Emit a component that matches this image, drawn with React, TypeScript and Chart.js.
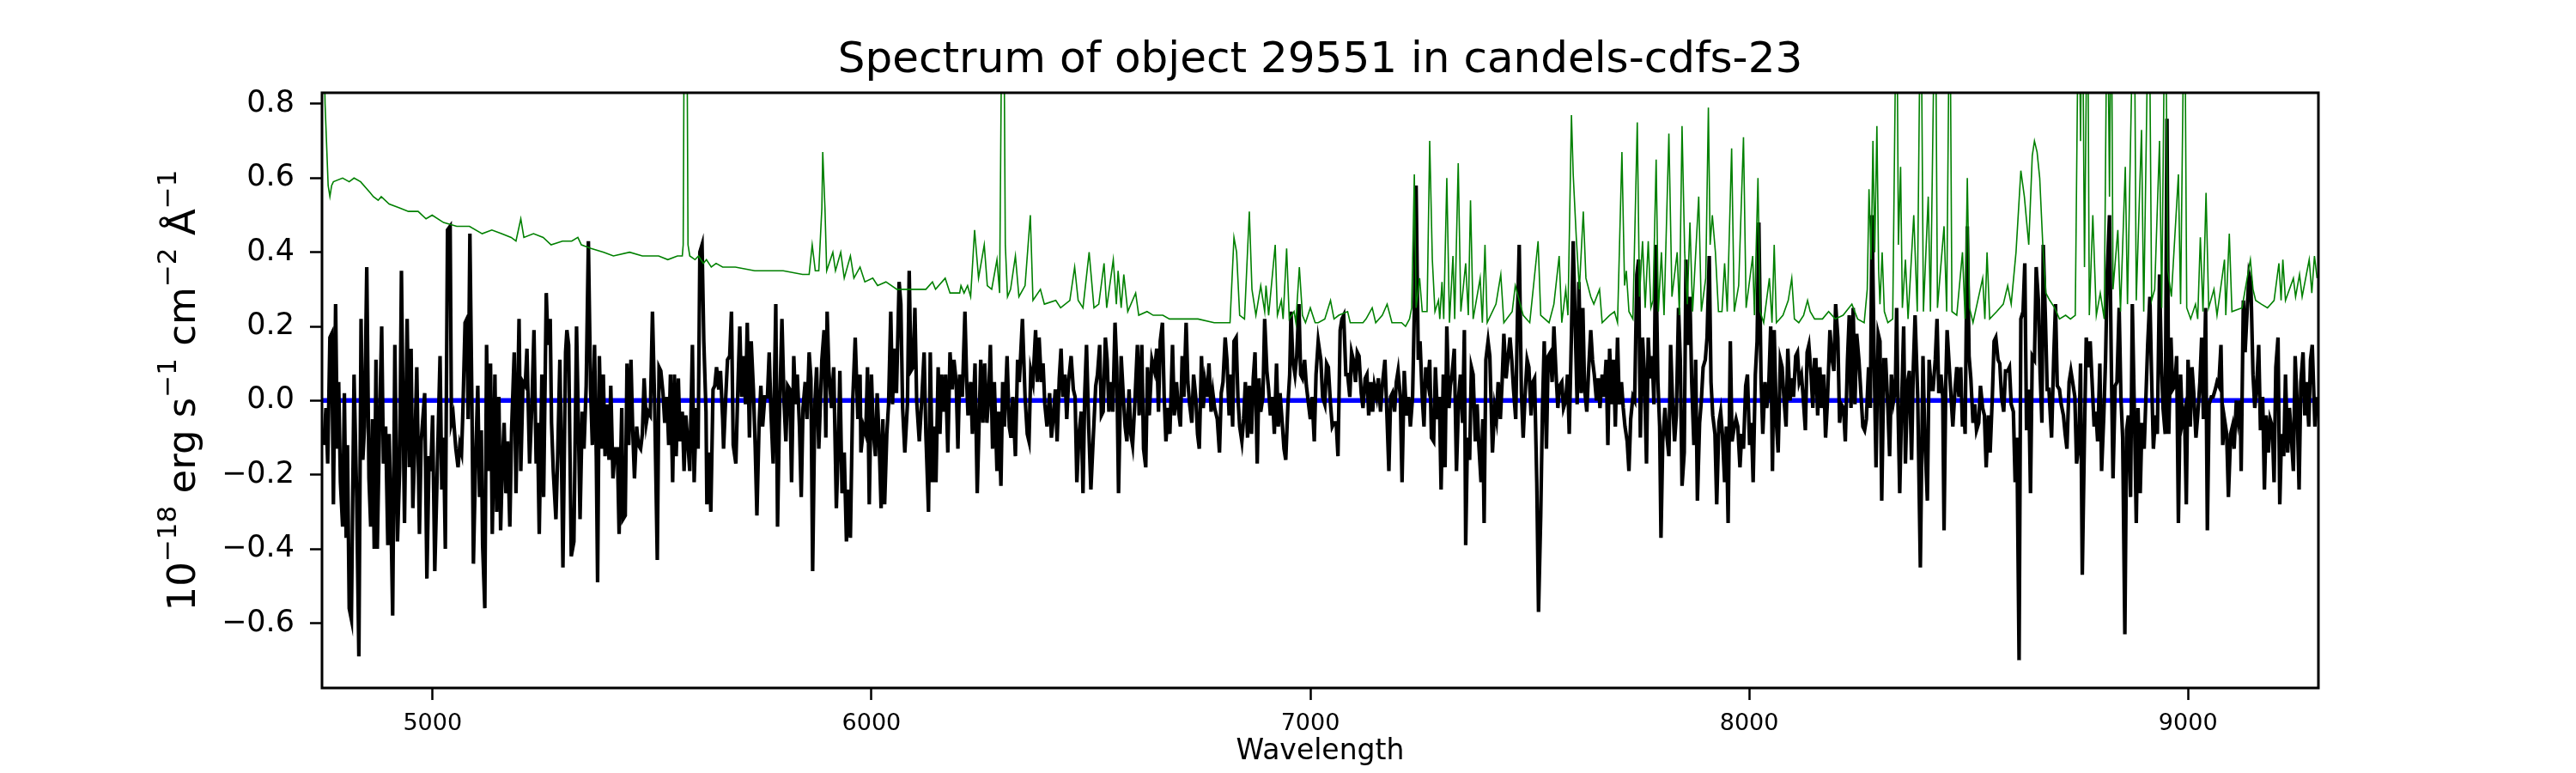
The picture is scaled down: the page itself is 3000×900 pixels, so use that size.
import { useEffect, useRef } from 'react';
import { Chart, registerables } from 'chart.js';

Chart.register(...registerables);

const TITLE = 'Spectrum of object 29551 in candels-cdfs-23';
const X_LABEL = 'Wavelength';
const Y_LABEL_PARTS = [
  { text: '10', sup: false },
  { text: '\u221218', sup: true },
  { text: ' erg s', sup: false },
  { text: '\u22121', sup: true },
  { text: ' cm', sup: false },
  { text: '\u22122', sup: true },
  { text: ' \u00c5', sup: false },
  { text: '\u22121', sup: true },
];
const X_MIN = 4748;
const X_MAX = 9297;
const Y_MIN = -0.775;
const Y_MAX = 0.83;
const X_TICKS = [5000, 6000, 7000, 8000, 9000];
const Y_TICKS = [-0.6, -0.4, -0.2, 0, 0.2, 0.4, 0.6, 0.8];
const ZERO_LEVEL = 0;

// flux (black), [wavelength, flux]
const FLUX_A: [number, number][] = [
  [4752,-0.12],[4757,-0.02],[4761,-0.17],[4766,0.17],[4770,0.18],[4774,-0.28],[4779,0.26],[4783,-0.13],[4786,0.05],[4790,-0.22],
  [4795,-0.34],[4799,0.02],[4803,-0.37],[4806,-0.12],[4810,-0.56],[4815,-0.59],[4821,0.07],[4827,-0.26],[4832,-0.69],[4837,0.22],
  [4841,-0.16],[4845,-0.07],[4850,0.36],[4855,-0.21],[4859,-0.34],[4863,-0.05],[4867,-0.40],[4871,0.11],[4874,-0.40],[4879,-0.07],
  [4884,0.20],[4888,-0.17],[4893,-0.07],[4898,-0.39],[4901,-0.09],[4905,-0.30],[4909,-0.58],[4914,0.15],[4920,-0.38],[4925,-0.18],
  [4929,0.35],[4933,-0.06],[4936,-0.33],[4942,0.22],[4947,-0.18],[4951,0.14],[4955,-0.29],[4960,-0.10],[4964,0.09],[4970,-0.36],
  [4974,-0.11],[4982,0.02],[4987,-0.48],[4992,-0.15],[4996,-0.19],[5000,-0.04],[5005,-0.46],[5011,-0.17],[5017,0.12],[5021,-0.24],
  [5025,-0.10],[5029,-0.40],[5034,0.46],[5040,0.47],[5043,-0.06],[5047,-0.04],[5053,-0.13],[5058,-0.18],[5062,-0.12],[5066,-0.14],
  [5069,-0.03],[5074,0.21],[5078,0.22],[5081,-0.05],[5085,0.45],[5090,-0.05],[5093,-0.44],[5098,-0.16],[5103,0.04],[5107,-0.26],
  [5111,-0.08],[5114,-0.39],[5119,-0.56],[5123,0.15],[5128,-0.19],[5132,0.10],[5136,-0.36],[5142,0.07],[5146,-0.30],[5151,0.01],
  [5155,-0.35],[5159,-0.17],[5163,-0.06],[5167,-0.25],[5171,-0.11],[5176,-0.34],[5180,-0.08],[5186,0.13],[5190,-0.25],[5197,0.22],
  [5201,-0.19],[5206,0.05],[5211,0.04],[5215,0.14],[5221,-0.17],[5226,-0.02],[5231,0.19],[5236,-0.17],[5239,-0.06],[5243,-0.36],
  [5249,0.07],[5253,-0.26],[5259,0.29],[5263,0.15],[5268,0.22],[5271,-0.06],[5275,-0.19],[5281,-0.32],[5285,-0.15],[5290,0.11],
  [5294,-0.19],[5297,-0.45],[5303,0.13],[5306,0.19],[5310,0.15],[5316,-0.42],[5322,-0.38],[5328,0.20],[5332,-0.05],[5336,-0.32],
  [5341,-0.03],[5345,-0.13],[5350,0.04],[5355,0.43],[5360,0.03],[5364,-0.12],[5369,0.15],[5373,-0.15],[5376,-0.49],[5380,0.12],
  [5385,-0.13],[5389,0.07],[5393,-0.15],[5398,-0.01],[5402,-0.16],[5406,0.04],[5411,-0.21],[5416,-0.13],[5421,-0.13],[5425,-0.36],
  [5431,-0.02],[5434,-0.32],[5439,-0.31],[5443,0.10],[5447,-0.12],[5452,0.11],[5456,-0.08],[5460,-0.21],[5465,-0.07],[5469,-0.12],
  [5474,-0.13],[5478,-0.09],[5482,0.06],[5487,-0.06],[5491,-0.03],[5496,-0.04],[5501,0.24],[5506,-0.01],[5512,-0.43],[5516,0.09],
  [5520,0.08],[5525,0.02],[5529,-0.06],[5534,0.01],[5538,-0.12],[5542,0.07],[5547,-0.22],[5551,0.07],[5555,-0.15],[5560,0.06],
  [5564,-0.11],[5569,-0.03],[5573,-0.19],[5577,-0.04],[5582,-0.12],[5586,-0.19],[5592,0.15],[5596,-0.22],[5601,-0.02],[5605,-0.13],
  [5609,0.40],[5614,0.42],[5618,0.16],[5623,-0.03],[5625,-0.28],[5630,-0.14],[5634,-0.30],[5639,0.03],[5643,0.04],[5647,0.09],
  [5652,0.03],[5656,0.08],[5661,-0.05],[5663,-0.13],[5668,0.01],[5672,0.11],[5677,0.12],[5681,0.24],[5685,-0.12],[5691,-0.17],
  [5696,0.05],[5700,0.20],[5704,0.01],[5709,0.12],[5713,-0.01],[5717,0.21],[5722,-0.10],[5726,0.16],[5731,0.03],[5735,-0.12],
  [5739,-0.31],[5744,-0.06],[5748,0.04],[5752,-0.07],[5757,0.01],[5763,0.01],[5767,0.13],[5771,-0.03],[5776,-0.17],[5782,0.26],
  [5786,-0.34],[5790,-0.06],[5796,0.22],[5801,-0.01],[5805,-0.11],[5809,0.04],[5814,0.03],[5818,-0.22],[5823,0.12],[5827,-0.01],
  [5831,0.07],[5836,-0.07],[5840,-0.26],[5844,-0.02],[5849,0.05],[5853,-0.05],[5858,0.13],[5862,0.06],[5866,-0.46],[5871,-0.01],
  [5875,0.09],[5880,-0.13],
];
const FLUX_B: [number, number][] = [
  [5887,0.11],[5892,0.19],[5896,-0.10],[5899,0.24],[5903,0.08],[5909,-0.02],[5914,0.09],[5920,-0.29],[5924,-0.14],[5928,0.08],
  [5933,-0.25],[5938,-0.14],[5943,-0.38],[5947,-0.24],[5952,-0.37],[5957,-0.01],[5963,0.17],[5969,-0.05],[5974,0.07],[5976,-0.14],
  [5982,-0.07],[5987,-0.09],[5991,0.09],[5995,-0.28],[6000,0.07],[6004,-0.08],[6009,-0.15],[6013,0.02],[6017,-0.09],[6022,-0.29],
  [6026,-0.05],[6030,-0.28],[6035,-0.09],[6039,-0.01],[6044,0.24],[6048,-0.01],[6052,0.14],[6057,0.02],[6063,0.32],[6067,0.26],
  [6071,-0.02],[6076,-0.14],[6082,-0.01],[6086,0.35],[6090,0.08],[6095,0.09],[6099,0.25],[6103,0.00],[6109,-0.11],[6114,-0.01],
  [6120,0.13],[6124,-0.09],[6130,-0.30],[6134,0.13],[6139,-0.22],[6143,-0.07],[6147,-0.22],[6152,0.09],[6156,-0.09],[6160,0.07],
  [6165,-0.03],[6169,0.07],[6174,-0.14],[6179,0.13],[6184,0.03],[6188,0.11],[6193,0.05],[6197,-0.13],[6201,0.07],[6207,0.01],
  [6213,0.24],[6217,0.05],[6220,-0.04],[6226,0.05],[6230,-0.09],[6236,0.10],[6241,-0.25],[6245,-0.07],[6249,0.11],[6254,-0.06],
  [6258,0.10],[6263,-0.06],[6267,0.01],[6271,0.15],[6276,-0.13],[6280,0.05],[6286,-0.19],[6290,-0.03],[6295,-0.23],[6299,0.05],
  [6303,-0.07],[6309,0.12],[6314,-0.07],[6318,-0.10],[6322,0.01],[6328,-0.15],[6333,0.11],[6337,0.05],[6344,0.22],[6350,0.01],
  [6355,-0.09],[6359,-0.11],[6363,0.08],[6368,0.05],[6374,0.19],[6378,0.05],[6382,0.17],[6387,0.05],[6391,0.10],[6395,-0.01],
  [6400,-0.07],[6406,0.02],[6410,-0.10],[6414,-0.05],[6419,0.03],[6423,-0.11],[6428,0.06],[6432,0.14],[6436,0.01],[6441,0.07],
  [6445,-0.05],[6449,0.05],[6455,0.12],[6460,0.03],[6464,0.01],[6468,-0.22],[6473,-0.09],[6478,-0.03],[6482,-0.25],[6486,0.02],
  [6490,0.15],[6495,-0.07],[6500,-0.24],[6505,-0.11],[6511,0.04],[6515,0.07],[6520,0.15],[6524,-0.04],[6528,-0.03],[6533,0.17],
  [6537,0.11],[6541,-0.03],[6546,0.05],[6550,-0.03],[6555,0.21],[6559,0.09],[6563,-0.25],[6569,0.12],[6574,0.01],[6578,-0.07],
  [6582,-0.11],[6587,0.03],[6591,-0.09],[6595,-0.12],[6600,-0.01],[6606,0.15],[6610,-0.04],[6616,0.15],[6620,-0.13],[6625,-0.18],
  [6629,0.09],[6633,-0.04],[6639,0.11],[6645,0.08],[6650,0.14],[6654,-0.03],[6658,0.16],[6663,0.21],[6667,0.01],[6671,-0.11],
  [6676,-0.02],[6680,-0.09],[6686,0.15],[6690,-0.04],[6695,0.05],[6699,-0.02],[6704,-0.07],[6708,0.12],[6712,0.01],[6717,0.21],
  [6721,0.05],[6725,-0.01],[6730,-0.06],[6734,0.07],[6739,0.01],[6743,-0.09],[6747,-0.13],[6752,0.12],[6756,-0.02],[6760,0.05],
  [6765,0.01],[6769,0.10],[6774,-0.03],[6778,0.02],[6782,-0.02],[6788,-0.05],[6793,-0.14],[6797,0.02],[6801,0.05],[6806,0.17],
  [6810,0.11],[6815,-0.04],[6819,0.07],[6823,-0.07],[6826,0.16],[6831,0.17],[6835,0.01],[6839,-0.07],[6844,-0.11],[6848,-0.05],
  [6852,0.05],[6857,-0.10],[6861,0.04],[6866,-0.09],[6870,0.06],[6874,0.13],[6879,-0.17],[6883,0.06],[6887,-0.03],[6892,0.01],
  [6896,0.22],[6901,0.08],[6905,0.03],[6909,-0.04],[6914,0.01],[6918,-0.09],[6923,0.10],[6927,-0.07],[6931,0.02],[6936,-0.06],
  [6940,-0.13],[6944,-0.16],[6949,-0.01],[6953,0.07],[6956,0.24],[6960,0.11],[6965,0.07],[6969,0.12],[6974,0.26],[6978,0.07],
  [6982,0.06],[6987,0.11],[6991,0.04],[6996,-0.01],[7000,-0.05],[7004,0.01],[7009,-0.11],[7013,0.07],
];
const FLUX_C: [number, number][] = [
  [7018,0.16],[7024,0.11],[7028,0.01],[7033,-0.01],[7037,0.10],[7041,0.09],[7046,-0.01],[7050,-0.07],[7054,-0.06],[7059,-0.06],
  [7063,-0.15],[7068,0.19],[7072,0.22],[7076,0.23],[7081,0.07],[7085,0.07],[7090,0.01],[7094,0.13],[7098,0.11],[7103,0.05],
  [7107,0.13],[7111,0.12],[7116,0.02],[7120,-0.02],[7125,0.06],[7129,0.07],[7133,-0.04],[7138,0.05],[7142,-0.03],[7146,0.04],
  [7151,0.01],[7155,0.06],[7160,-0.03],[7164,0.04],[7170,0.11],[7174,-0.02],[7179,-0.19],[7183,0.01],[7187,0.02],[7192,-0.03],
  [7196,0.05],[7200,0.08],[7205,0.01],[7209,-0.22],[7214,0.08],[7219,-0.04],[7224,0.01],[7228,-0.07],[7233,0.01],[7237,0.24],
  [7241,0.58],[7246,0.11],[7250,0.16],[7255,0.01],[7259,-0.07],[7263,0.09],[7268,0.05],[7272,0.11],[7276,-0.10],[7281,-0.11],
  [7285,0.09],[7290,-0.05],[7294,0.01],[7298,-0.24],[7303,0.07],[7307,-0.18],[7311,0.20],[7316,-0.02],[7319,0.04],[7323,0.07],
  [7328,0.14],[7333,-0.19],[7338,0.01],[7342,0.07],[7347,-0.06],[7351,0.19],[7354,-0.39],[7358,-0.10],[7363,-0.16],[7367,0.09],
  [7371,0.07],[7376,-0.11],[7380,-0.01],[7384,-0.12],[7389,-0.22],[7393,-0.05],[7396,-0.33],[7400,0.11],[7405,0.16],[7409,0.12],
  [7415,-0.14],[7420,-0.02],[7424,-0.05],[7428,0.05],[7433,-0.05],[7437,0.05],[7441,0.18],[7446,0.06],[7450,0.11],[7455,0.17],
  [7459,0.11],[7463,0.03],[7468,-0.05],[7472,0.23],[7476,0.42],[7481,0.02],[7485,-0.10],[7490,0.03],[7494,0.11],[7498,0.09],
  [7503,-0.04],[7507,0.05],[7511,0.06],[7516,-0.22],[7520,-0.57],[7525,-0.31],[7529,-0.02],[7533,0.16],[7538,-0.13],[7542,0.12],
  [7547,0.13],[7551,0.05],[7555,0.20],[7560,0.07],[7564,-0.02],[7568,0.04],[7573,0.05],[7577,-0.02],[7582,0.00],[7586,0.07],
  [7590,-0.09],[7595,0.18],[7599,0.43],[7603,0.23],[7608,-0.01],[7612,0.32],[7617,0.02],[7621,0.25],[7625,0.03],[7630,-0.03],
  [7634,0.08],[7639,0.19],[7643,0.11],[7647,0.07],[7652,0.00],[7656,0.06],[7660,-0.02],[7665,0.07],[7669,0.01],[7674,0.11],
  [7678,-0.12],[7682,0.14],[7687,-0.01],[7691,0.11],[7695,-0.07],[7700,0.17],[7704,-0.01],[7709,0.05],[7713,-0.02],[7717,-0.07],
  [7722,-0.11],[7726,-0.19],[7730,-0.05],[7735,0.01],[7739,0.00],[7744,0.34],[7748,0.38],[7752,-0.10],[7757,0.17],[7761,0.08],
  [7766,-0.17],[7770,0.17],[7774,0.06],[7779,0.12],[7783,-0.01],[7787,0.42],[7792,0.05],[7796,-0.07],[7799,-0.37],[7803,-0.11],
  [7808,-0.02],[7812,-0.09],[7817,-0.15],[7821,0.15],[7825,0.01],[7830,-0.11],[7834,-0.04],[7839,0.25],[7843,0.11],[7847,-0.23],
  [7852,-0.14],[7856,0.38],[7860,0.15],[7865,0.28],[7869,0.05],[7874,-0.12],[7878,0.11],[7882,-0.27],[7887,-0.06],[7891,0.00],
  [7895,0.09],[7900,0.11],[7904,0.17],[7909,0.39],[7913,0.05],[7917,-0.04],[7922,-0.09],[7926,-0.28],[7931,-0.06],[7935,-0.03],
  [7939,-0.09],[7944,-0.22],[7948,-0.07],[7952,-0.33],[7957,0.16],[7961,-0.11],[7966,-0.07],[7970,-0.05],[7974,-0.07],[7979,-0.18],
  [7983,-0.09],[7987,-0.13],[7992,0.04],[7996,0.07],[8001,-0.12],[8005,-0.06],[8009,-0.22],[8014,0.07],[8018,0.16],[8022,0.48],
  [8027,0.06],[8031,-0.09],[8036,0.05],[8040,-0.02],[8044,0.02],[8049,0.20],[8053,-0.19],[8057,0.19],[8062,-0.06],[8066,-0.14],
  [8071,0.11],[8075,0.09],[8079,0.01],[8084,-0.07],[8088,0.14],[8093,0.00],[8097,0.06],[8101,0.01],[8106,0.12],[8110,0.13],
  [8114,0.05],[8119,0.07],[8123,0.01],[8128,-0.08],[8132,0.13],[8136,0.15],[8141,0.07],[8145,-0.02],[8149,0.11],
];
const FLUX_D: [number, number][] = [
  [8152,0.11],[8156,-0.04],[8161,0.09],[8165,-0.02],[8170,0.07],[8174,-0.10],[8178,-0.01],[8184,0.19],[8189,0.11],[8193,0.08],
  [8197,0.26],[8202,0.17],[8206,-0.06],[8210,-0.01],[8215,-0.02],[8219,-0.11],[8224,0.11],[8228,0.23],[8232,-0.02],[8237,0.25],
  [8241,-0.01],[8245,0.18],[8250,0.11],[8254,0.03],[8259,-0.07],[8263,-0.08],[8267,-0.05],[8272,0.09],[8276,-0.02],[8280,0.50],
  [8285,0.09],[8289,-0.18],[8294,0.18],[8298,0.16],[8302,-0.27],[8307,0.11],[8311,0.11],[8316,-0.02],[8320,-0.15],[8324,0.07],
  [8329,0.00],[8333,0.03],[8336,0.25],[8339,-0.01],[8343,-0.25],[8348,0.02],[8352,0.20],[8356,-0.17],[8361,0.05],[8365,0.08],
  [8370,-0.16],[8374,0.09],[8378,0.23],[8384,0.01],[8390,-0.45],[8396,0.12],[8400,-0.09],[8406,-0.27],[8410,0.11],[8415,0.03],
  [8419,0.03],[8424,0.11],[8428,0.22],[8432,0.02],[8437,0.07],[8441,0.01],[8444,-0.35],[8448,0.05],[8451,0.19],[8456,0.09],
  [8460,0.01],[8464,-0.07],[8469,0.03],[8473,0.09],[8478,0.01],[8482,0.09],[8486,-0.07],[8489,-0.01],[8492,-0.09],[8497,0.47],
  [8501,0.12],[8505,0.06],[8510,-0.06],[8514,-0.01],[8518,-0.08],[8523,-0.06],[8527,0.04],[8532,-0.02],[8536,-0.04],[8540,-0.18],
  [8545,-0.04],[8549,-0.14],[8554,0.01],[8558,0.16],[8562,0.17],[8567,0.11],[8571,0.10],[8575,0.01],[8580,-0.03],[8584,0.08],
  [8589,0.08],[8593,0.09],[8597,-0.01],[8602,-0.03],[8606,-0.22],[8610,-0.10],[8615,-0.70],[8619,0.22],[8624,0.24],[8628,0.37],
  [8632,-0.08],[8637,0.03],[8641,-0.25],[8645,0.12],[8650,0.11],[8654,0.36],[8659,0.27],[8663,0.07],[8667,-0.06],[8670,0.42],
  [8675,0.22],[8679,0.03],[8683,0.03],[8689,-0.10],[8694,0.12],[8698,0.26],[8702,0.04],[8707,0.03],[8711,-0.01],[8716,-0.04],
  [8720,-0.09],[8724,-0.13],[8729,0.05],[8733,0.08],[8737,0.05],[8742,0.01],[8746,-0.17],[8751,-0.12],[8755,0.10],[8759,-0.47],
  [8764,-0.09],[8768,0.17],[8773,0.09],[8777,0.16],[8781,0.06],[8786,-0.07],[8790,-0.03],[8794,-0.11],[8799,0.10],[8803,-0.19],
  [8808,-0.04],[8812,0.11],[8816,0.35],[8821,0.50],[8825,0.11],[8829,-0.21],[8834,0.04],[8838,0.05],[8843,0.25],[8847,0.01],
  [8851,-0.10],[8856,-0.63],[8860,-0.08],[8864,-0.04],[8869,-0.26],[8873,0.26],[8878,-0.05],[8882,-0.33],[8886,-0.02],[8891,-0.25],
  [8895,-0.06],[8900,-0.13],[8904,0.01],[8908,0.15],[8913,0.28],[8917,0.06],[8921,-0.13],[8926,-0.04],[8930,-0.09],[8935,0.34],
  [8939,0.11],[8943,-0.02],[8948,-0.09],[8952,0.76],[8956,-0.09],[8961,0.17],[8965,0.03],[8970,0.04],[8974,0.12],[8978,-0.33],
  [8983,0.07],[8987,-0.06],[8992,-0.03],[8996,-0.28],[9000,0.11],[9005,-0.07],[9009,0.09],[9013,0.02],[9018,-0.10],[9022,-0.04],
  [9027,0.05],[9031,0.17],[9035,-0.05],[9040,0.25],[9044,-0.35],[9048,-0.01],[9053,0.01],[9057,0.01],[9062,0.03],[9066,0.05],
  [9070,0.04],[9075,0.15],[9079,-0.12],[9083,-0.05],[9088,-0.09],[9092,-0.26],[9097,-0.09],[9101,-0.07],[9105,-0.13],[9110,0.00],
  [9114,-0.05],[9119,0.00],[9121,-0.19],[9126,0.27],[9130,0.13],[9135,0.25],[9139,0.34],[9143,0.32],[9148,0.07],[9152,-0.02],
  [9156,0.03],[9161,0.15],[9165,-0.08],[9170,0.01],[9174,-0.24],[9178,-0.04],[9183,-0.14],[9187,-0.05],[9192,-0.07],[9196,-0.22],
  [9200,0.09],[9205,0.17],[9209,-0.28],[9213,-0.09],[9218,-0.15],[9222,0.07],[9227,-0.14],[9231,-0.02],[9235,-0.09],[9240,-0.19],
  [9244,0.12],[9248,0.01],[9253,-0.24],[9257,0.05],[9262,0.13],[9266,-0.04],[9270,0.05],[9275,-0.07],[9279,0.11],[9283,0.15],
  [9289,-0.07],[9294,0.01],
];

// error spectrum (green), [wavelength, error]
const ERR_A: [number, number][] = [
  [4749,1.2],[4755,0.80],[4762,0.58],[4766,0.55],[4770,0.58],[4774,0.59],[4795,0.60],[4810,0.59],[4821,0.60],[4836,0.59],
  [4858,0.56],[4865,0.55],[4876,0.54],[4883,0.55],[4901,0.53],[4923,0.52],[4945,0.51],[4967,0.51],[4985,0.49],[4999,0.50],
  [5025,0.48],[5055,0.47],[5084,0.47],[5113,0.45],[5135,0.46],[5157,0.45],[5179,0.44],[5190,0.43],[5201,0.49],[5208,0.44],
  [5230,0.45],[5252,0.44],[5270,0.42],[5296,0.43],[5317,0.43],[5331,0.44],[5339,0.42],[5361,0.41],[5390,0.40],[5412,0.39],
  [5449,0.40],[5478,0.39],[5515,0.39],[5536,0.38],[5558,0.39],[5569,0.39],[5571,0.42],[5574,1.2],[5579,1.2],[5582,0.42],
  [5586,0.39],[5598,0.38],[5606,0.39],[5617,0.37],[5624,0.38],[5635,0.36],[5646,0.37],[5661,0.36],[5690,0.36],[5734,0.35],
  [5770,0.35],[5799,0.35],[5843,0.34],[5858,0.34],[5865,0.42],[5872,0.35],[5880,0.35],[5887,0.52],
];
const ERR_B: [number, number][] = [
  [5889,0.67],[5894,0.52],[5898,0.35],[5912,0.40],[5918,0.35],[5930,0.40],[5938,0.33],[5952,0.39],[5960,0.33],[5974,0.36],
  [5985,0.32],[6003,0.33],[6014,0.31],[6033,0.32],[6058,0.30],[6087,0.30],[6124,0.30],[6139,0.32],[6146,0.30],[6168,0.33],
  [6179,0.29],[6201,0.29],[6204,0.31],[6211,0.29],[6219,0.31],[6226,0.28],[6235,0.46],[6244,0.33],[6257,0.42],[6264,0.31],
  [6274,0.30],[6286,0.38],[6292,0.29],[6298,1.2],[6301,1.2],[6305,0.42],[6310,0.28],[6317,0.30],[6328,0.39],[6336,0.28],
  [6350,0.31],[6362,0.50],[6368,0.27],[6385,0.30],[6394,0.26],[6420,0.27],[6431,0.25],[6452,0.27],[6463,0.36],[6471,0.27],
  [6482,0.25],[6496,0.40],[6507,0.25],[6518,0.26],[6530,0.37],[6536,0.25],[6551,0.38],[6558,0.26],[6562,0.35],[6569,0.25],
  [6575,0.34],[6584,0.24],[6602,0.29],[6609,0.23],[6628,0.24],[6642,0.23],[6664,0.23],[6679,0.22],[6701,0.22],[6730,0.22],
  [6744,0.22],[6781,0.21],[6817,0.21],[6826,0.44],[6832,0.40],[6839,0.23],[6850,0.22],[6861,0.51],[6867,0.30],[6876,0.23],
  [6887,0.31],[6896,0.24],[6899,0.31],[6905,0.23],[6920,0.42],[6925,0.23],[6934,0.27],[6938,0.22],[6946,0.41],[6952,0.22],
  [6963,0.24],[6967,0.21],[6975,0.36],[6982,0.23],[6989,0.21],[7000,0.25],[7011,0.21],
];
const ERR_C: [number, number][] = [
  [7018,0.21],[7033,0.22],[7046,0.27],[7054,0.22],[7065,0.23],[7085,0.24],[7091,0.21],[7120,0.21],[7127,0.22],[7141,0.25],
  [7149,0.21],[7164,0.23],[7175,0.26],[7186,0.21],[7208,0.21],[7217,0.20],[7226,0.22],[7231,0.25],[7237,0.61],[7241,0.25],
  [7249,0.33],[7255,0.24],[7266,0.24],[7272,0.70],[7278,0.38],[7284,0.24],[7292,0.27],[7295,0.22],[7300,0.32],[7304,0.22],
  [7311,0.60],[7317,0.21],[7325,0.39],[7329,0.22],[7337,0.64],[7343,0.24],[7354,0.37],[7360,0.23],[7365,0.54],[7371,0.22],
  [7387,0.33],[7392,0.21],[7398,0.42],[7403,0.21],[7423,0.26],[7434,0.34],[7441,0.21],[7460,0.24],[7467,0.31],[7485,0.23],
  [7500,0.21],[7519,0.43],[7525,0.23],[7544,0.21],[7555,0.26],[7567,0.39],[7573,0.21],[7582,0.30],[7587,0.23],[7595,0.77],
  [7599,0.61],[7606,0.44],[7613,0.30],[7622,0.51],[7628,0.33],[7639,0.28],[7646,0.26],[7659,0.30],[7665,0.21],[7682,0.23],
  [7693,0.24],[7700,0.21],[7710,0.67],[7716,0.31],[7720,0.35],[7726,0.24],[7735,0.22],[7745,0.75],[7750,0.28],[7757,0.43],
  [7763,0.25],[7770,0.43],[7776,0.25],[7781,0.27],[7788,0.65],[7793,0.24],[7800,0.40],[7806,0.23],[7817,0.72],[7824,0.28],
  [7836,0.40],[7841,0.23],[7847,0.74],[7853,0.40],[7859,0.26],[7865,0.48],[7871,0.24],[7885,0.55],[7891,0.24],[7901,0.33],
  [7907,0.79],[7911,0.42],[7916,0.50],[7923,0.40],[7930,0.24],[7938,0.24],[7944,0.37],[7950,0.24],[7960,0.68],[7966,0.24],
  [7976,0.31],[7987,0.71],[7993,0.25],[8008,0.39],[8012,0.23],[8020,0.60],[8025,0.24],[8033,0.21],[8046,0.33],[8052,0.21],
  [8057,0.42],[8062,0.21],[8077,0.23],[8089,0.27],[8097,0.33],[8103,0.22],[8113,0.21],[8124,0.23],[8133,0.27],[8139,0.24],
  [8149,0.22],
];
const ERR_D: [number, number][] = [
  [8152,0.22],[8167,0.22],[8181,0.24],[8196,0.22],[8214,0.23],[8234,0.26],[8247,0.22],[8262,0.21],[8269,0.30],[8273,0.57],
  [8278,0.38],[8282,0.70],[8286,0.40],[8291,0.74],[8295,0.35],[8298,0.26],[8303,0.40],[8308,0.24],[8316,0.21],[8327,0.22],
  [8336,1.2],[8340,0.42],[8345,0.63],[8349,0.25],[8356,0.38],[8362,0.22],[8375,0.50],[8383,0.24],[8391,1.2],[8397,0.24],
  [8408,0.55],[8413,0.24],[8424,1.2],[8429,0.25],[8444,0.47],[8450,0.24],[8457,1.2],[8462,0.24],[8473,0.23],[8486,0.40],
  [8492,0.22],[8497,0.60],[8502,0.25],[8510,0.21],[8532,0.33],[8537,0.22],[8542,0.40],[8548,0.22],[8564,0.24],[8579,0.26],
  [8589,0.31],[8597,0.26],[8608,0.40],[8619,0.62],[8627,0.55],[8637,0.42],[8645,0.66],[8650,0.70],[8656,0.67],[8662,0.60],
  [8669,0.42],[8676,0.29],[8685,0.27],[8696,0.25],[8707,0.22],[8721,0.23],[8732,0.22],[8743,0.23],[8751,1.2],[8755,0.70],
  [8759,1.2],[8764,0.36],[8771,1.2],[8775,0.23],[8783,0.50],[8791,0.23],[8800,0.29],[8809,0.22],[8816,1.2],[8821,0.55],
  [8825,1.2],[8829,0.30],[8840,0.46],[8846,0.24],[8857,0.63],[8862,0.26],[8877,1.2],[8882,0.27],[8894,0.73],[8899,0.24],
  [8911,1.2],[8917,0.27],[8924,0.30],[8935,0.70],[8940,0.25],[8948,1.2],[8954,0.35],[8962,0.28],[8978,0.61],[8983,0.26],
  [8992,1.2],[8997,0.25],[9006,0.22],[9017,0.26],[9022,0.22],[9028,0.44],[9034,0.24],[9041,0.56],[9047,0.25],[9059,0.30],
  [9066,0.23],[9083,0.38],[9086,0.23],[9094,0.45],[9100,0.24],[9123,0.25],[9142,0.38],[9148,0.30],[9154,0.27],[9167,0.26],
  [9181,0.25],[9196,0.27],[9207,0.37],[9212,0.27],[9216,0.38],[9222,0.27],[9240,0.33],[9245,0.28],[9254,0.34],[9260,0.28],
  [9276,0.38],[9282,0.29],[9288,0.39],[9294,0.33],
];

const FONT = 'DejaVu Sans';
const TITLE_SIZE = 50;
const TITLE_BASELINE = 84;
const Y_LABEL_SIZE = 45;
const Y_LABEL_X = 227;

const toPoints = (arr: [number, number][]) => arr.map(([x, y]) => ({ x, y }));

const framePlugin = {
  id: 'frame',
  afterDatasetsDraw(chart: any) {
    const { ctx, chartArea } = chart;
    ctx.save();
    ctx.strokeStyle = '#000';
    ctx.lineWidth = 3;
    ctx.strokeRect(chartArea.left, chartArea.top, chartArea.right - chartArea.left, chartArea.bottom - chartArea.top);
    ctx.restore();
  },
};

const titlePlugin = {
  id: 'plotTitle',
  afterDraw(chart: any) {
    const { ctx, chartArea } = chart;
    ctx.save();
    ctx.font = `${TITLE_SIZE}px "${FONT}"`;
    ctx.fillStyle = '#000';
    ctx.textAlign = 'center';
    ctx.textBaseline = 'alphabetic';
    ctx.fillText(TITLE, (chartArea.left + chartArea.right) / 2, TITLE_BASELINE);
    ctx.restore();
  },
};

const yLabelPlugin = {
  id: 'yLabel',
  afterDraw(chart: any) {
    const { ctx, chartArea } = chart;
    const mainFont = `${Y_LABEL_SIZE}px "${FONT}"`;
    const supFont = `${Math.round(Y_LABEL_SIZE * 0.7)}px "${FONT}"`;
    ctx.save();
    let total = 0;
    const widths = Y_LABEL_PARTS.map((p) => {
      ctx.font = p.sup ? supFont : mainFont;
      const w = ctx.measureText(p.text).width;
      total += w;
      return w;
    });
    const cy = (chartArea.top + chartArea.bottom) / 2;
    ctx.translate(Y_LABEL_X, cy);
    ctx.rotate(-Math.PI / 2);
    ctx.fillStyle = '#000';
    ctx.textAlign = 'left';
    ctx.textBaseline = 'alphabetic';
    let x = -total / 2;
    Y_LABEL_PARTS.forEach((p, i) => {
      ctx.font = p.sup ? supFont : mainFont;
      ctx.fillText(p.text, x, p.sup ? -Y_LABEL_SIZE * 0.48 : 0);
      x += widths[i];
    });
    ctx.restore();
  },
};

export default function App() {
  const canvasRef = useRef<HTMLCanvasElement | null>(null);

  useEffect(() => {
    document.body.style.margin = '0';
    const canvas = canvasRef.current;
    if (!canvas) return;
    const tickGrid = {
      display: true,
      drawOnChartArea: false,
      drawTicks: true,
      tickLength: 14,
      tickWidth: 2.5,
      tickColor: '#000',
    };
    const chart = new Chart(canvas, {
      type: 'line',
      data: {
        datasets: [
          {
            label: 'error',
            data: toPoints([...ERR_A, ...ERR_B, ...ERR_C, ...ERR_D]),
            borderColor: '#008000',
            borderWidth: 1.6,
            pointRadius: 0,
            tension: 0,
            fill: false,
            clip: 0,
          },
          {
            label: 'flux',
            data: toPoints([...FLUX_A, ...FLUX_B, ...FLUX_C, ...FLUX_D]),
            borderColor: '#000000',
            borderWidth: 4.2,
            pointRadius: 0,
            tension: 0,
            fill: false,
            clip: 0,
          },
          {
            label: 'zero',
            data: [{ x: X_MIN, y: ZERO_LEVEL }, { x: X_MAX, y: ZERO_LEVEL }],
            borderColor: '#0000ff',
            borderWidth: 5.5,
            pointRadius: 0,
            tension: 0,
            fill: false,
            clip: 0,
          },
        ],
      } as any,
      options: {
        animation: false,
        responsive: false,
        devicePixelRatio: 1,
        parsing: false,
        normalized: true,
        events: [],
        layout: { padding: { left: 0, right: 300, top: 108, bottom: 0 } },
        plugins: {
          legend: { display: false },
          tooltip: { enabled: false },
          title: { display: false },
        },
        scales: {
          x: {
            type: 'linear',
            min: X_MIN,
            max: X_MAX,
            afterBuildTicks: (s: any) => {
              s.ticks = X_TICKS.map((v) => ({ value: v }));
            },
            afterFit: (s: any) => {
              s.height = 99;
            },
            grid: tickGrid,
            border: { display: false },
            ticks: {
              color: '#000',
              font: { family: FONT, size: 27 },
              padding: 12,
              maxRotation: 0,
              autoSkip: false,
              callback: (v: any) => String(v),
            },
            title: {
              display: true,
              text: X_LABEL,
              color: '#000',
              font: { family: FONT, size: 33 },
              padding: { top: 0, bottom: 5 },
            },
          },
          y: {
            type: 'linear',
            min: Y_MIN,
            max: Y_MAX,
            afterBuildTicks: (s: any) => {
              s.ticks = Y_TICKS.map((v) => ({ value: v }));
            },
            afterFit: (s: any) => {
              s.width = 375;
            },
            grid: tickGrid,
            border: { display: false },
            ticks: {
              color: '#000',
              font: { family: FONT, size: 35 },
              padding: 18,
              autoSkip: false,
              callback: (v: any) => {
                const n = Number(v);
                const s = Math.abs(n).toFixed(1);
                return n < -1e-9 ? '\u2212' + s : s;
              },
            },
          },
        },
      } as any,
      plugins: [framePlugin, titlePlugin, yLabelPlugin],
    });
    return () => chart.destroy();
  }, []);

  return (
    <canvas
      ref={canvasRef}
      width={3000}
      height={900}
      style={{ display: 'block', width: '3000px', height: '900px' }}
    />
  );
}
